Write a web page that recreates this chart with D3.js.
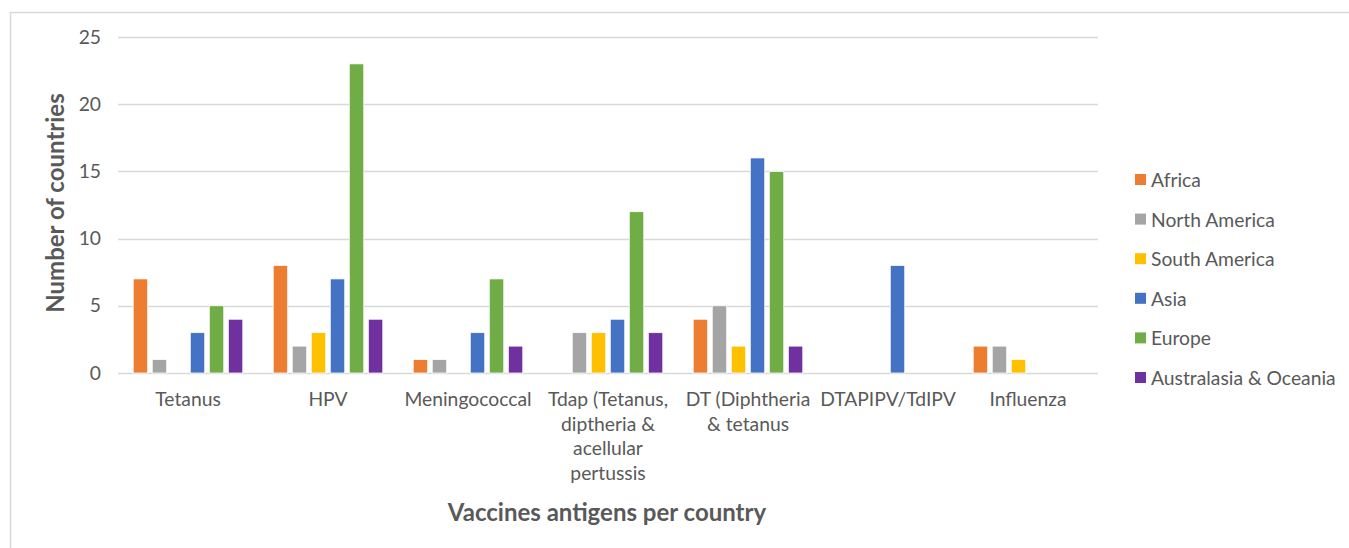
<!DOCTYPE html>
<html>
<head>
<meta charset="utf-8">
<script src="https://cdn.jsdelivr.net/npm/d3@7"></script>
<style>
  html, body { margin: 0; padding: 0; background: #fff; }
  svg { display: block; font-family: Lato, "Open Sans", sans-serif; }
</style>
</head>
<body>
<svg id="chart" width="1349" height="548"></svg>
<script>
// Vaccine antigen categories (multi-line labels where the axis wraps them)
const categories = ["Tetanus", "HPV", "Meningococcal", "Tdap", "DT", "DTAPIPV/TdIPV", "Influenza"];
const categoryLabels = [
  ["Tetanus"],
  ["HPV"],
  ["Meningococcal"],
  ["Tdap (Tetanus,", "diptheria &", "acellular", "pertussis"],
  ["DT (Diphtheria", "& tetanus"],
  ["DTAPIPV/TdIPV"],
  ["Influenza"]
];
const regions = ["Africa", "North America", "South America", "Asia", "Europe", "Australasia & Oceania"];
const regionColors = ["#ED7D31", "#A5A5A5", "#FFC000", "#4472C4", "#70AD47", "#7030A0"];

// Number of countries per region, one array per region, ordered as categories
const africa       = [7, 8, 1, 0, 4, 0, 2];
const northAmerica = [1, 2, 1, 3, 5, 0, 2];
const southAmerica = [0, 3, 0, 3, 2, 0, 1];
const asia         = [3, 7, 3, 4, 16, 8, 0];
const europe       = [5, 23, 7, 12, 15, 0, 0];
const australasia  = [4, 4, 2, 3, 2, 0, 0];
const seriesValues = [africa, northAmerica, southAmerica, asia, europe, australasia];

const yTicks = [0, 5, 10, 15, 20, 25];

const svg = d3.select("#chart");
const margin = { left: 118, right: 251, top: 37, bottom: 175 };
const W = 1349, H = 548;
const plotRight = W - margin.right;
const plotBottom = H - margin.bottom;
const labelSize = 19.3;
const titleSize = 24;

// Outer chart frame
svg.append("rect")
  .attr("x", 10.5).attr("y", 12.5)
  .attr("width", 1400).attr("height", 600)
  .attr("fill", "none").attr("stroke", "#d9d9d9").attr("stroke-width", 1.5);

const y = d3.scaleLinear().domain([0, 25]).range([plotBottom, margin.top]);
const x0 = d3.scaleBand().domain(categories).range([margin.left, plotRight]);
const x1 = d3.scaleBand().domain(regions).range([0, x0.bandwidth()])
  .paddingInner(0.24).paddingOuter(0.8);
const color = d3.scaleOrdinal().domain(regions).range(regionColors);

// Gridlines
svg.append("g")
  .selectAll("line")
  .data(yTicks)
  .join("line")
  .attr("x1", margin.left).attr("x2", plotRight)
  .attr("y1", d => Math.round(y(d)) + 0.5).attr("y2", d => Math.round(y(d)) + 0.5)
  .attr("stroke", "#d9d9d9").attr("stroke-width", 1.5);

// Y axis tick labels
const yAxis = d3.axisLeft(y).tickValues(yTicks).tickSize(0).tickPadding(0);
svg.append("g")
  .attr("transform", `translate(101,0)`)
  .call(yAxis)
  .call(g => g.select(".domain").remove())
  .call(g => g.selectAll("text")
    .attr("font-family", "Lato, sans-serif")
    .attr("font-size", labelSize)
    .attr("fill", "#595959"));

// Bars
const rows = [];
categories.forEach((c, i) => {
  regions.forEach((r, j) => {
    rows.push({ category: c, region: r, value: seriesValues[j][i] });
  });
});
svg.append("g")
  .selectAll("rect")
  .data(rows.filter(d => d.value > 0))
  .join("rect")
  .attr("x", d => x0(d.category) + x1(d.region))
  .attr("y", d => y(d.value))
  .attr("width", x1.bandwidth())
  .attr("height", d => y(0) - y(d.value))
  .attr("fill", d => color(d.region))
  .attr("stroke", "#fff").attr("stroke-width", 0.75);

// X axis category labels
const xLabels = svg.append("g");
categories.forEach((c, i) => {
  const t = xLabels.append("text")
    .attr("x", x0(c) + x0.bandwidth() / 2)
    .attr("y", 406)
    .attr("text-anchor", "middle")
    .attr("font-size", labelSize)
    .attr("fill", "#595959");
  categoryLabels[i].forEach((line, k) => {
    t.append("tspan")
      .attr("x", x0(c) + x0.bandwidth() / 2)
      .attr("dy", k === 0 ? 0 : 24.5)
      .text(line);
  });
});

// Axis titles
svg.append("text")
  .attr("x", 607).attr("y", 521)
  .attr("text-anchor", "middle")
  .attr("font-size", titleSize).attr("font-weight", "bold")
  .attr("fill", "#595959")
  .text("Vaccines antigens per country");

svg.append("text")
  .attr("transform", "translate(64,203) rotate(-90)")
  .attr("text-anchor", "middle")
  .attr("font-size", titleSize).attr("font-weight", "bold")
  .attr("fill", "#595959")
  .text("Number of countries");

// Legend
const legend = svg.append("g")
  .selectAll("g")
  .data(regions)
  .join("g")
  .attr("transform", (d, i) => `translate(1135,${180 + i * 39.6})`);
legend.append("rect")
  .attr("x", 0).attr("y", -6)
  .attr("width", 11).attr("height", 11)
  .attr("fill", d => color(d));
legend.append("text")
  .attr("x", 16).attr("y", 7)
  .attr("font-size", labelSize)
  .attr("fill", "#595959")
  .text(d => d);
</script>
</body>
</html>
